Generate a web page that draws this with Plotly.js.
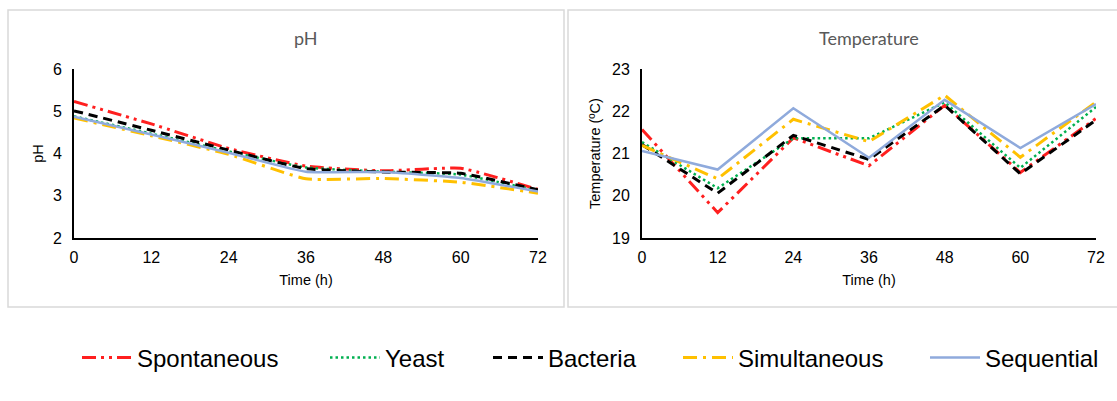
<!DOCTYPE html>
<html>
<head>
<meta charset="utf-8">
<script src="https://cdn.plot.ly/plotly-3.0.1.min.js"></script>
<style>html,body{margin:0;padding:0;background:#fff;}#chart{width:1117px;height:401px;}</style>
</head>
<body>
<div id="chart"></div>
<script>
// ---- data ----
const timeH = [0, 12, 24, 36, 48, 60, 72];
const seriesNames = ["Spontaneous", "Yeast", "Bacteria", "Simultaneous", "Sequential"];

const phSpontaneous  = [5.23, 4.70, 4.12, 3.70, 3.59, 3.65, 3.15];
const phYeast        = [4.88, 4.47, 4.05, 3.67, 3.57, 3.50, 3.12];
const phBacteria     = [5.01, 4.55, 4.08, 3.64, 3.56, 3.53, 3.14];
const phSimultaneous = [4.84, 4.42, 3.98, 3.40, 3.41, 3.32, 3.06];
const phSequential   = [4.87, 4.45, 4.02, 3.57, 3.56, 3.42, 3.10];

const tSpontaneous  = [21.57, 19.60, 21.37, 20.71, 22.14, 20.55, 21.83];
const tYeast        = [21.27, 20.18, 21.36, 21.36, 22.21, 20.66, 22.10];
const tBacteria     = [21.21, 20.06, 21.43, 20.86, 22.14, 20.52, 21.79];
const tSimultaneous = [21.19, 20.40, 21.81, 21.28, 22.38, 20.91, 22.22];
const tSequential   = [21.06, 20.62, 22.07, 20.90, 22.27, 21.13, 22.17];

const xTicks = [0, 12, 24, 36, 48, 60, 72];
const phTicks = [2, 3, 4, 5, 6];
const tTicks = [19, 20, 21, 22, 23];

// ---- styles ----
const styles = [
  {color: "#FF1F1F", width: 3, dash: "14px,5px,3px,5px,3px,5px"},
  {color: "#00B050", width: 2.5, dash: "2.5px,3px"},
  {color: "#000000", width: 3, dash: "9px,6px"},
  {color: "#FFC000", width: 3, dash: "14px,6px,3px,6px"},
  {color: "#8FAADC", width: 2.5, dash: "solid"}
];
const phSeries = [phSpontaneous, phYeast, phBacteria, phSimultaneous, phSequential];
const tSeries = [tSpontaneous, tYeast, tBacteria, tSimultaneous, tSequential];

const W = 1117, H = 401;
const px = v => v / W;
const py = v => 1 - v / H;

const legendNames = ["legend", "legend2", "legend3", "legend4", "legend5"];
const legendTextX = [141, 389, 552, 742, 989];
const legendItemWidth = 50;

const traces = [];
phSeries.forEach((s, i) => {
  traces.push({
    x: timeH, y: s, name: seriesNames[i], type: "scatter", mode: "lines",
    xaxis: "x", yaxis: "y", showlegend: false,
    line: {color: styles[i].color, width: styles[i].width, dash: styles[i].dash, shape: "spline", smoothing: 0.4},
    hoverinfo: "x+y+name"
  });
});
tSeries.forEach((s, i) => {
  traces.push({
    x: timeH, y: s, name: seriesNames[i], type: "scatter", mode: "lines",
    xaxis: "x2", yaxis: "y2", showlegend: true, legend: legendNames[i],
    line: {color: styles[i].color, width: styles[i].width, dash: styles[i].dash},
    hoverinfo: "x+y+name"
  });
});

const tickFont = {family: "Liberation Sans, Arial, sans-serif", size: 16, color: "#000"};
const titleFont = {family: "Liberation Sans, Arial, sans-serif", size: 14.5, color: "#000"};

function xAxis(domain, anchor) {
  return {
    domain: domain, anchor: anchor, range: [0, 72], tickvals: xTicks,
    showgrid: false, zeroline: false, showline: true, linecolor: "#000", linewidth: 2,
    ticks: "", tickfont: tickFont, ticklabelstandoff: 4,
    title: {text: "Time (h)", font: titleFont, standoff: 10}, fixedrange: true
  };
}
function yAxis(domain, anchor, range, ticks, title, standoff) {
  return {
    domain: domain, anchor: anchor, range: range, tickvals: ticks,
    showgrid: false, zeroline: false, showline: true, linecolor: "#000", linewidth: 2,
    ticks: "", tickfont: tickFont, ticklabelstandoff: 7,
    title: {text: title, font: titleFont, standoff: standoff}, fixedrange: true
  };
}

const yDom = [py(238), py(69)];

const layout = {
  width: W, height: H,
  margin: {l: 0, r: 0, t: 0, b: 0},
  paper_bgcolor: "#fff", plot_bgcolor: "#fff",
  font: {family: "Liberation Sans, Arial, sans-serif"},
  xaxis: xAxis([px(74), px(538)], "y"),
  yaxis: yAxis(yDom, "x", [2, 6], phTicks, "pH", 6),
  xaxis2: xAxis([px(642), px(1096)], "y2"),
  yaxis2: yAxis(yDom, "x2", [19, 23], tTicks, "Temperature (ºC)", 8),
  shapes: [
    {type: "rect", xref: "paper", yref: "paper", x0: px(8), x1: px(564), y0: py(307), y1: py(10),
     line: {color: "#D9D9D9", width: 1.5}, fillcolor: "rgba(0,0,0,0)", layer: "below"},
    {type: "rect", xref: "paper", yref: "paper", x0: px(568), x1: px(1122), y0: py(307), y1: py(10),
     line: {color: "#D9D9D9", width: 1.5}, fillcolor: "rgba(0,0,0,0)", layer: "below"}
  ],
  annotations: [
    {text: "pH", xref: "paper", yref: "paper", x: px(306), y: py(38), showarrow: false,
     xanchor: "center", yanchor: "middle", font: {family: "Lato, Open Sans, sans-serif", size: 18, color: "#595959"}},
    {text: "Temperature", xref: "paper", yref: "paper", x: px(869), y: py(38), showarrow: false,
     xanchor: "center", yanchor: "middle", font: {family: "Lato, Open Sans, sans-serif", size: 18, color: "#595959"}}
  ],
  hovermode: "closest"
};

legendNames.forEach((ln, i) => {
  layout[ln] = {
    x: px(legendTextX[i] - legendItemWidth - 14), y: py(358), xanchor: "left", yanchor: "middle",
    orientation: "h", bgcolor: "rgba(0,0,0,0)", borderwidth: 0,
    itemwidth: legendItemWidth,
    font: {family: "Liberation Sans, Arial, sans-serif", size: 24, color: "#000"}
  };
});

Plotly.newPlot("chart", traces, layout, {displayModeBar: false, staticPlot: false});
</script>
</body>
</html>
